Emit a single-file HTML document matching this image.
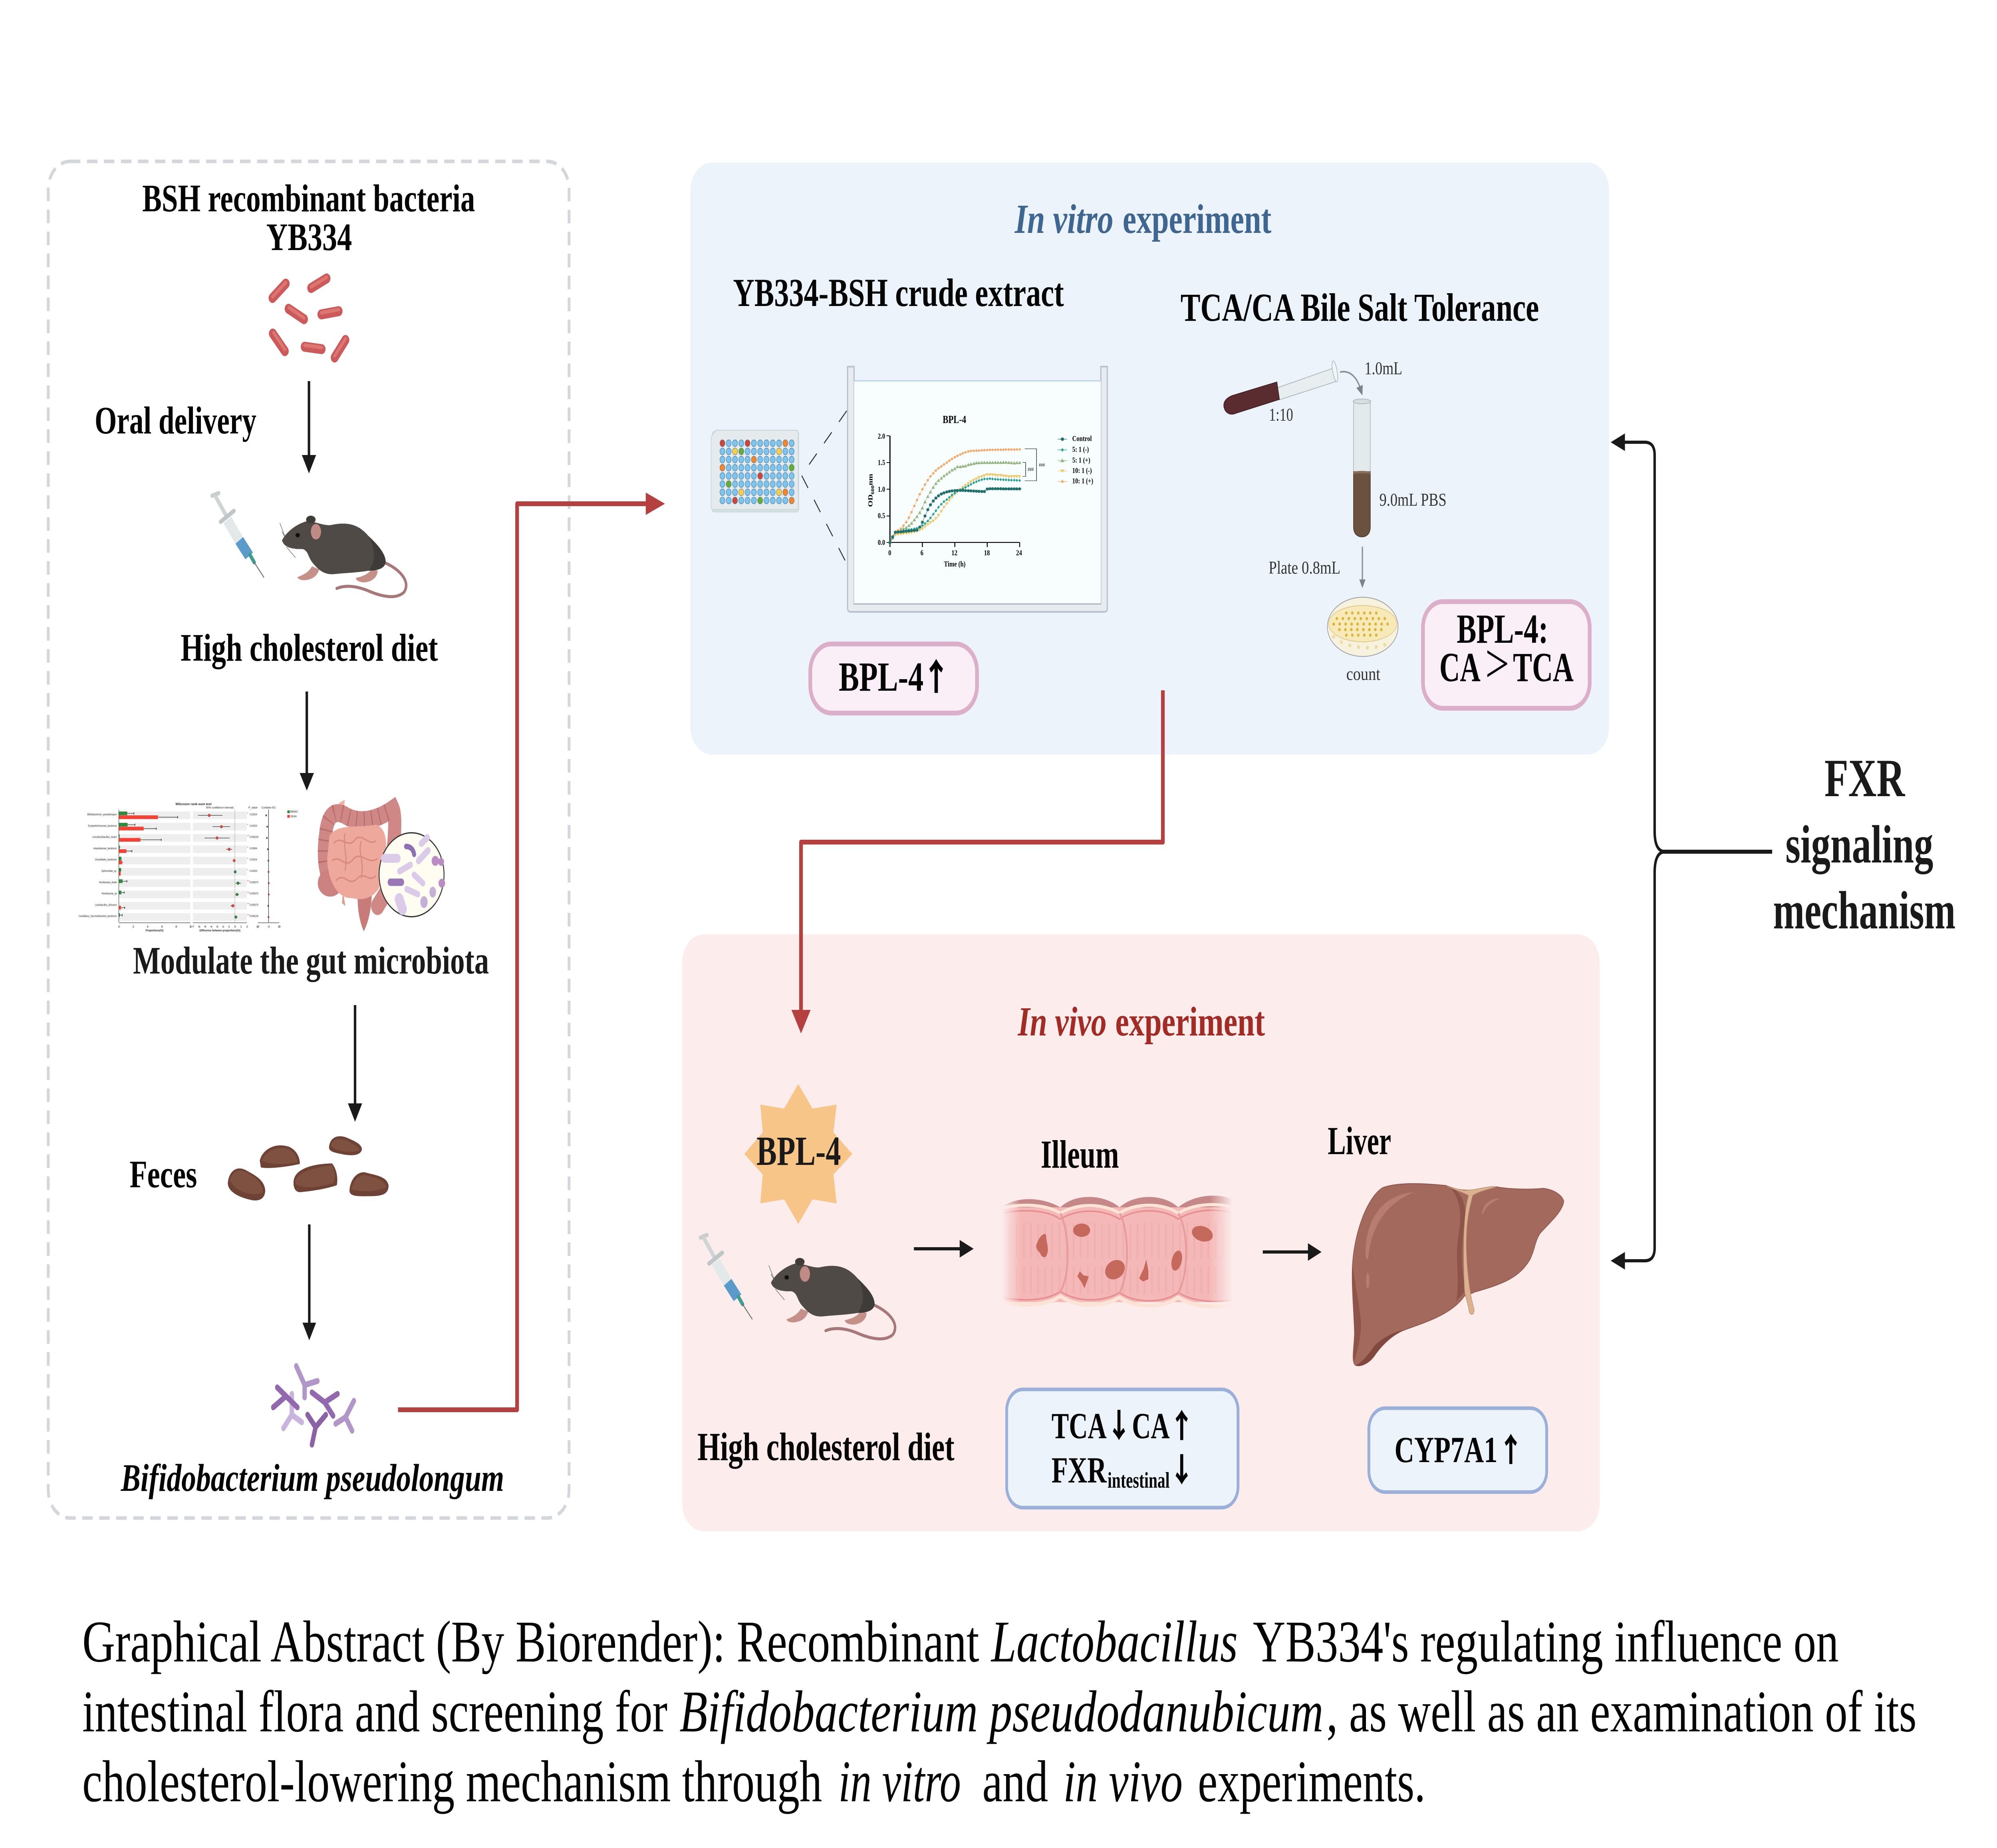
<!DOCTYPE html>
<html><head><meta charset="utf-8"><title>Graphical Abstract</title>
<style>
html,body{margin:0;padding:0;background:#fff;overflow:hidden;width:100%;height:4626px}
svg{display:block;width:100vw;height:4626px;max-width:6457px}
text{font-family:"Liberation Serif",serif;fill:#050505}
.b{font-weight:bold}
.i{font-style:italic}
.s{font-family:"Liberation Sans",sans-serif;fill:#222}
.ar{font-family:"Noto Sans CJK SC","Liberation Serif",sans-serif;font-weight:900}
</style></head><body>
<svg xmlns="http://www.w3.org/2000/svg" viewBox="0 0 6457 4626" preserveAspectRatio="none">
<defs>
<g id="ms" transform="translate(100 350) scale(1.18 1.084)">
  <path d="M965 975C1010 990 1042 1020 1022 1045C1000 1062 960 1055 920 1040C890 1030 860 1028 838 1036" fill="none" stroke="#A87878" stroke-width="7" stroke-linecap="round"/>
  <path d="M730 1010C745 1005 760 1000 770 985L790 992C785 1005 775 1015 750 1017C740 1017 733 1015 730 1010Z" fill="#C49088"/>
  <path d="M890 1012C910 1008 925 1003 935 990L950 995C950 1010 935 1020 915 1022C900 1022 892 1018 890 1012Z" fill="#C49088"/>
  <path d="M688 925C700 905 730 885 760 880C790 885 800 890 820 890C870 880 900 890 925 915C950 935 972 955 972 975C970 990 950 995 925 995C890 1000 860 1000 830 1003C800 1005 785 990 770 975C758 960 760 950 745 945C725 945 695 945 688 925Z" fill="#4F4A46"/>
  <path d="M925 915C950 935 972 955 972 975C970 990 950 995 925 995C945 975 945 945 925 915Z" fill="#3F3B38"/>
  <ellipse cx="767" cy="877" rx="13" ry="9" fill="#3F3B38"/>
  <ellipse cx="781" cy="905" rx="14" ry="18" fill="#C08A85"/>
  <ellipse cx="731" cy="913" rx="6" ry="5" fill="#111"/>
  <path d="M688 905L700 925M682 885L698 920M695 935L730 945M700 940L725 965" stroke="#555" stroke-width="1.2" fill="none"/>
</g>
<g id="sy" transform="translate(100 350) scale(1.18 1.084)" stroke-linecap="round">
  <line x1="497" y1="822" x2="514" y2="816" stroke="#C9CFCF" stroke-width="10"/>
  <line x1="507" y1="825" x2="535" y2="868" stroke="#CFD5D5" stroke-width="10"/>
  <line x1="520" y1="882" x2="556" y2="857" stroke="#BFC6C7" stroke-width="10"/>
  <line x1="538" y1="878" x2="573" y2="928" stroke="#E3E8E9" stroke-width="26" stroke-linecap="butt"/>
  <line x1="571" y1="925" x2="598" y2="961" stroke="#5B9BCB" stroke-width="26" stroke-linecap="butt"/>
  <line x1="600" y1="958" x2="612" y2="976" stroke="#3E9E8F" stroke-width="9"/>
  <line x1="612" y1="976" x2="638" y2="1010" stroke="#777" stroke-width="2.5"/>
</g>
<linearGradient id="fd" gradientUnits="userSpaceOnUse" x1="905" x2="1555" y1="0" y2="0">
  <stop offset="0" stop-color="#000"/><stop offset=".08" stop-color="#fff"/><stop offset=".9" stop-color="#fff"/><stop offset="1" stop-color="#000"/>
</linearGradient>
<mask id="fm" maskUnits="userSpaceOnUse" x="900" y="630" width="670" height="320"><rect x="900" y="630" width="670" height="320" fill="url(#fd)"/></mask>
<marker id="mO" markerUnits="userSpaceOnUse" markerWidth="30" markerHeight="30" refX="0" refY="0" overflow="visible"><polygon points="0,-10 8,0 0,10 -8,0" fill="#F4A767"/></marker>
<marker id="mG" markerUnits="userSpaceOnUse" markerWidth="30" markerHeight="30" refX="0" refY="0" overflow="visible"><polygon points="0,-12 9,9 -9,9" fill="#95B583"/></marker>
<marker id="mY" markerUnits="userSpaceOnUse" markerWidth="30" markerHeight="30" refX="0" refY="0" overflow="visible"><polygon points="0,11 9,-9 -9,-9" fill="#EAC86C"/></marker>
<marker id="mT" markerUnits="userSpaceOnUse" markerWidth="30" markerHeight="30" refX="0" refY="0" overflow="visible"><polygon points="0,-10 7,0 0,10 -7,0" fill="#26A08F"/></marker>
<marker id="mD" markerUnits="userSpaceOnUse" markerWidth="30" markerHeight="30" refX="0" refY="0" overflow="visible"><ellipse rx="8" ry="10" fill="#22706C"/></marker>
<g id="wr"><circle cx="142" r="8.5"/><circle cx="163.3" r="8.5"/><circle cx="184.5" r="8.5"/><circle cx="205.8" r="8.5"/><circle cx="227" r="8.5"/><circle cx="248.4" r="8.5"/><circle cx="269.6" r="8.5"/><circle cx="290.9" r="8.5"/><circle cx="312.2" r="8.5"/><circle cx="333.4" r="8.5"/><circle cx="354.7" r="8.5"/><circle cx="376" r="8.5"/></g>
</defs>

<rect width="6457" height="4626" fill="#fff"/>

<!-- panels -->
<rect x="156" y="404" width="1684" height="3396" rx="70" fill="none" stroke="#D3D7DB" stroke-width="9" stroke-dasharray="34 21"/>
<rect x="2232" y="407" width="2971" height="1482" rx="70" fill="#ECF3FB"/>
<rect x="2206" y="2339" width="2966" height="1494" rx="70" fill="#FCECEC"/>

<!-- LEFT PANEL TEXT -->
<text class="b" x="460" y="529" font-size="98" textLength="1076" lengthAdjust="spacingAndGlyphs">BSH recombinant bacteria</text>
<text class="b" x="861" y="626" font-size="98" textLength="277" lengthAdjust="spacingAndGlyphs">YB334</text>
<text class="b" x="306" y="1085" font-size="98" textLength="523" lengthAdjust="spacingAndGlyphs">Oral delivery</text>
<text class="b" x="584" y="1654" font-size="98" textLength="832" lengthAdjust="spacingAndGlyphs">High cholesterol diet</text>
<text class="b" x="430" y="2437" font-size="98" textLength="1151" lengthAdjust="spacingAndGlyphs" style="fill:#1a1a1a">Modulate the gut microbiota</text>
<text class="b" x="419" y="2972" font-size="98" textLength="218" lengthAdjust="spacingAndGlyphs">Feces</text>
<text class="b i" x="391" y="3732" font-size="98" textLength="1239" lengthAdjust="spacingAndGlyphs">Bifidobacterium pseudolongum</text>

<!-- bacteria -->
<g stroke="#CC5A5A" stroke-width="25" stroke-linecap="round">
<line x1="881" y1="746" x2="924" y2="710"/><line x1="1006" y1="721" x2="1056" y2="697"/>
<line x1="933" y1="773" x2="983" y2="799"/><line x1="1039" y1="787" x2="1095" y2="779"/>
<line x1="882" y1="835" x2="921" y2="879"/><line x1="985" y1="868" x2="1040" y2="874"/>
<line x1="1082" y1="895" x2="1117" y2="851"/></g>
<g stroke="#DC7672" stroke-width="9" stroke-linecap="round">
<line x1="881" y1="743" x2="924" y2="707"/><line x1="1006" y1="718" x2="1056" y2="694"/>
<line x1="935" y1="770" x2="983" y2="796"/><line x1="1039" y1="783" x2="1095" y2="775"/>
<line x1="885" y1="833" x2="921" y2="875"/><line x1="985" y1="864" x2="1040" y2="870"/>
<line x1="1082" y1="891" x2="1117" y2="848"/></g>

<!-- black arrows left -->
<g fill="#1a1a1a" stroke="none">
<rect x="995" y="954" width="8" height="190"/><polygon points="976,1139 1022,1139 999,1185"/>
<rect x="988" y="1731" width="8" height="210"/><polygon points="969,1935 1015,1935 992,1979"/>
<rect x="1144" y="2516" width="8" height="250"/><polygon points="1125,2762 1171,2762 1148,2808"/>
<rect x="996" y="3065" width="8" height="250"/><polygon points="978,3311 1022,3311 1000,3355"/>
</g>

<use href="#sy"/><use href="#ms"/>

<!-- Wilcoxon chart -->
<g transform="translate(200 1950) scale(.542 .345)">
<g fill="#EEEEEE">
<rect x="340" y="236" width="427" height="55"/><rect x="782" y="236" width="321" height="55"/>
<rect x="340" y="318" width="427" height="55"/><rect x="782" y="318" width="321" height="55"/>
<rect x="340" y="400" width="427" height="55"/><rect x="782" y="400" width="321" height="55"/>
<rect x="340" y="482" width="427" height="55"/><rect x="782" y="482" width="321" height="55"/>
<rect x="340" y="564" width="427" height="55"/><rect x="782" y="564" width="321" height="55"/>
<rect x="340" y="646" width="427" height="55"/><rect x="782" y="646" width="321" height="55"/>
<rect x="340" y="728" width="427" height="55"/><rect x="782" y="728" width="321" height="55"/>
<rect x="340" y="810" width="427" height="55"/><rect x="782" y="810" width="321" height="55"/>
<rect x="340" y="892" width="427" height="55"/><rect x="782" y="892" width="321" height="55"/>
<rect x="340" y="974" width="427" height="55"/><rect x="782" y="974" width="321" height="55"/>
</g>
<g fill="#2E8B3E">
<rect x="340" y="236" width="50" height="27"/><rect x="340" y="318" width="52" height="27"/><rect x="340" y="400" width="4" height="27"/><rect x="340" y="482" width="5" height="27"/><rect x="340" y="564" width="15" height="27"/><rect x="340" y="646" width="13" height="27"/><rect x="340" y="728" width="22" height="27"/><rect x="340" y="810" width="15" height="27"/><rect x="340" y="974" width="6" height="27"/>
</g>
<g fill="#F44336">
<rect x="340" y="264" width="233" height="27"/><rect x="340" y="346" width="148" height="27"/><rect x="340" y="428" width="129" height="27"/><rect x="340" y="510" width="45" height="27"/><rect x="340" y="592" width="20" height="27"/><rect x="340" y="674" width="11" height="27"/><rect x="340" y="920" width="13" height="27"/>
</g>
<g stroke="#111" stroke-width="3" fill="none">
<path d="M390 250H430M573 277H691M392 332H436M488 360H563M344 414H346M469 441H593M345 496H349M385 523H418M355 578H357M360 605H364M353 660H356M362 742H388M355 824H372M353 934H375M346 988H360"/>
<path d="M430 242V258M691 269V285M436 324V340M563 352V368M593 433V449M418 515V531M388 734V750M372 816V832M375 926V942M360 980V996"/>
<path d="M812 264H958M899 346H1003M851 428H1001M980 510H1016M1036 756H1068M1035 838H1056M1006 920H1031M1032 1002H1047" stroke="#444" stroke-width="4"/>
<path d="M340 222V1040" stroke-width="2"/>
<path d="M1233 222V1040" stroke-width="2.5"/>
<path d="M1032 222V1040" stroke-dasharray="6 6" stroke-width="1.5"/>
<path d="M340 1043H767M782 1043H1103M1169 1043H1297" stroke="#777" stroke-width="5"/>
</g>
<g fill="#F44336" stroke="#8a3a3a" stroke-width="2"><ellipse cx="879" cy="264" rx="7" ry="10"/><ellipse cx="952" cy="346" rx="7" ry="10"/><ellipse cx="926" cy="428" rx="7" ry="10"/><ellipse cx="998" cy="510" rx="7" ry="10"/><ellipse cx="1028" cy="592" rx="7" ry="10"/><ellipse cx="1020" cy="920" rx="7" ry="10"/></g>
<g fill="#2E8B3E" stroke="#2a5a3a" stroke-width="2"><ellipse cx="1034" cy="674" rx="7" ry="10"/><ellipse cx="1051" cy="756" rx="7" ry="10"/><ellipse cx="1045" cy="838" rx="7" ry="10"/><ellipse cx="1038" cy="1002" rx="7" ry="10"/></g>
<g fill="#2E6B3E"><ellipse cx="1219" cy="264" rx="5" ry="7"/><ellipse cx="1225" cy="346" rx="5" ry="7"/><ellipse cx="1223" cy="428" rx="5" ry="7"/><ellipse cx="1229" cy="510" rx="5" ry="7"/><ellipse cx="1232" cy="592" rx="5" ry="7"/><ellipse cx="1231" cy="920" rx="5" ry="7"/></g>
<g fill="#A33"><ellipse cx="1233" cy="674" rx="5" ry="7"/><ellipse cx="1234" cy="756" rx="5" ry="7"/><ellipse cx="1234" cy="838" rx="5" ry="7"/><ellipse cx="1233" cy="1002" rx="5" ry="7"/></g>
<rect x="1345" y="228" width="15" height="20" fill="#2E8B3E"/><rect x="1345" y="261" width="15" height="20" fill="#F44336"/>
<g font-size="20">
<text class="s" x="152" y="264" textLength="176" lengthAdjust="spacingAndGlyphs">Bifidobacterium_pseudolongum</text>
<text class="s" x="156" y="346" textLength="172" lengthAdjust="spacingAndGlyphs">Erysipelotrichaceae_bacterium</text>
<text class="s" x="181" y="428" textLength="147" lengthAdjust="spacingAndGlyphs">Limosilactobacillus_reuteri</text>
<text class="s" x="188" y="510" textLength="140" lengthAdjust="spacingAndGlyphs">Atopobiaceae_bacterium</text>
<text class="s" x="197" y="592" textLength="131" lengthAdjust="spacingAndGlyphs">Clostridiales_bacterium</text>
<text class="s" x="236" y="674" textLength="92" lengthAdjust="spacingAndGlyphs">Siphoviridae_sp.</text>
<text class="s" x="222" y="756" textLength="106" lengthAdjust="spacingAndGlyphs">Romboutsia_ilealis</text>
<text class="s" x="238" y="838" textLength="90" lengthAdjust="spacingAndGlyphs">Romboutsia_sp</text>
<text class="s" x="198" y="920" textLength="130" lengthAdjust="spacingAndGlyphs">Lactobacillus_johnsonii</text>
<text class="s" x="100" y="1002" textLength="228" lengthAdjust="spacingAndGlyphs">Candidatus_Saccharibacteria_bacterium</text>
<text class="s" x="1120" y="264" textLength="45" lengthAdjust="spacingAndGlyphs">0.02024</text>
<text class="s" x="1120" y="346" textLength="45" lengthAdjust="spacingAndGlyphs">0.04533</text>
<text class="s" x="1120" y="428" textLength="52" lengthAdjust="spacingAndGlyphs">0.008239</text>
<text class="s" x="1120" y="510" textLength="45" lengthAdjust="spacingAndGlyphs">0.03064</text>
<text class="s" x="1120" y="592" textLength="45" lengthAdjust="spacingAndGlyphs">0.02024</text>
<text class="s" x="1120" y="674" textLength="45" lengthAdjust="spacingAndGlyphs">0.04533</text>
<text class="s" x="1120" y="756" textLength="52" lengthAdjust="spacingAndGlyphs">0.005075</text>
<text class="s" x="1120" y="838" textLength="52" lengthAdjust="spacingAndGlyphs">0.005075</text>
<text class="s" x="1120" y="920" textLength="52" lengthAdjust="spacingAndGlyphs">0.005075</text>
<text class="s" x="1120" y="1002" textLength="52" lengthAdjust="spacingAndGlyphs">0.008239</text>
<text class="s" x="860" y="214" textLength="165" lengthAdjust="spacingAndGlyphs">95% confidence intervals</text>
<text class="s" x="1113" y="214" textLength="54" lengthAdjust="spacingAndGlyphs">P_value</text>
<text class="s" x="1191" y="214" textLength="84" lengthAdjust="spacingAndGlyphs">Combine ES</text>
<text class="s" x="1362" y="244" textLength="46" lengthAdjust="spacingAndGlyphs">NB5462</text>
<text class="s" x="1362" y="278" textLength="38" lengthAdjust="spacingAndGlyphs">YB334</text>
<text class="s" x="336" y="1078">0</text><text class="s" x="421" y="1078">2</text><text class="s" x="506" y="1078">4</text><text class="s" x="592" y="1078">6</text><text class="s" x="677" y="1078">8</text><text class="s" x="760" y="1078" textLength="16">10</text>
<text class="s" x="776" y="1078" textLength="14">-7</text><text class="s" x="812" y="1078" textLength="14">-6</text><text class="s" x="848" y="1078" textLength="14">-5</text><text class="s" x="884" y="1078" textLength="14">-4</text><text class="s" x="919" y="1078" textLength="14">-3</text><text class="s" x="955" y="1078" textLength="14">-2</text><text class="s" x="990" y="1078" textLength="14">-1</text><text class="s" x="1028" y="1078">0</text><text class="s" x="1064" y="1078">1</text><text class="s" x="1100" y="1078">2</text>
<text class="s" x="1160" y="1078" textLength="18">-20</text><text class="s" x="1229" y="1078">0</text><text class="s" x="1289" y="1078" textLength="16">20</text>
<text class="s" x="678" y="190" textLength="215" lengthAdjust="spacingAndGlyphs" font-size="24" font-weight="bold">Wilcoxon rank-sum test</text>
<text class="s" x="500" y="1106" textLength="106" lengthAdjust="spacingAndGlyphs" font-weight="bold">Proportions(%)</text>
<text class="s" x="821" y="1106" textLength="244" lengthAdjust="spacingAndGlyphs" font-weight="bold">Difference between proportions(%)</text>
</g>
<g font-size="20"><text class="s" x="1104" y="258" style="fill:#e33">*</text><text class="s" x="1104" y="340" style="fill:#e33">*</text><text class="s" x="1104" y="422" style="fill:#e33">**</text><text class="s" x="1104" y="504" style="fill:#e33">*</text><text class="s" x="1104" y="586" style="fill:#e33">*</text><text class="s" x="1104" y="668" style="fill:#e33">*</text><text class="s" x="1104" y="750" style="fill:#e33">**</text><text class="s" x="1104" y="832" style="fill:#e33">**</text><text class="s" x="1104" y="914" style="fill:#e33">**</text><text class="s" x="1104" y="996" style="fill:#e33">**</text></g>
</g>

<!-- Gut illustration (zoom 2 coords) -->
<g transform="translate(100 1900) scale(1.18 1.2436)">
  <path d="M896 262C892 300 902 330 912 347C924 330 932 305 934 275C925 262 908 256 896 262Z" fill="#C87C7A"/>
  <path d="M845 88L860 82L856 120L838 118Z" fill="#EDB5A4"/>
  <path d="M822 245C804 230 800 190 808 150C812 118 828 100 860 113C900 132 950 122 992 100C1004 120 992 200 978 262L950 296" fill="none" stroke="#D08886" stroke-width="36" stroke-linecap="round"/>
  <path d="M822 245C804 230 800 190 808 150C812 118 828 100 860 113C900 132 950 122 992 100" fill="none" stroke="#B96E6D" stroke-width="36" stroke-dasharray="3 18"/>
  <ellipse cx="820" cy="250" rx="34" ry="27" fill="#CC8280"/>
  <path d="M855 268L862 296L852 290Z" fill="#DDA08E"/>
  <path d="M818 155C840 128 900 140 945 132C980 140 975 180 970 220C962 272 925 288 880 280C838 282 812 240 812 200Z" fill="#EFA99C"/>
  <path d="M830 170C850 150 870 185 890 160C910 150 925 175 945 165M825 205C850 190 860 225 885 200C905 185 925 215 950 200M835 245C860 225 870 260 895 240C915 225 925 250 945 235M860 150C855 180 870 200 860 225M905 165C895 190 915 205 905 240" fill="none" stroke="#D9897E" stroke-width="3"/>
  <ellipse cx="1043" cy="233" rx="89" ry="84.5" fill="#FFFCF2" stroke="#333" stroke-width="2.5"/>
  <g stroke-linecap="round" fill="none">
    <path d="M968 200H1004" stroke="#DCCBE8" stroke-width="18"/>
    <path d="M1028 176C1040 176 1048 182 1050 192" stroke="#8C72B5" stroke-width="11"/>
    <path d="M1062 205L1088 184M1070 170L1086 158" stroke="#DCCBE8" stroke-width="14"/>
    <path d="M1010 226L1040 213M1050 233L1074 250M1030 262L1060 272" stroke="#DCCBE8" stroke-width="13"/>
    <path d="M985 248H1015" stroke="#9A78B5" stroke-width="15"/>
    <path d="M1009 282L1018 302" stroke="#DCCBE8" stroke-width="24"/>
  </g>
  <g fill="#B98CC4"><circle cx="1108" cy="205" r="10"/><circle cx="1124" cy="207" r="8"/><circle cx="1126" cy="250" r="9"/></g>
  <g fill="#C5B0D8"><ellipse cx="1101" cy="268" rx="9" ry="11"/><ellipse cx="1077" cy="288" rx="10" ry="12"/></g>
</g>

<!-- Feces (zoom 2 coords) -->
<g transform="translate(100 1900) scale(1.18 1.2436)">
  <path d="M540 850C545 828 565 818 590 828C615 838 640 848 642 868C642 885 625 892 600 887C570 882 535 870 540 850Z" fill="#6E4234"/>
  <path d="M627 808C635 785 670 772 705 780C725 785 737 800 737 815C710 820 650 826 630 822Z" fill="#6E4234"/>
  <path d="M720 848C725 825 770 815 825 814C838 825 842 845 838 858C810 865 770 870 735 872C722 870 718 860 720 848Z" fill="#6E4234"/>
  <path d="M817 780C820 762 840 755 865 762C890 770 905 775 907 785C905 798 880 800 850 795C830 792 815 790 817 780Z" fill="#6E4234"/>
  <path d="M873 868C875 845 895 830 915 832C945 838 975 840 980 858C980 875 965 880 930 880C900 880 872 882 873 868Z" fill="#6E4234"/>
  <path d="M545 848C552 830 570 824 590 832C612 840 634 852 636 872C610 882 560 872 545 848Z" fill="#7E5140"/>
  <path d="M632 808C645 788 675 778 705 785C720 790 730 800 730 812C700 816 660 818 632 808Z" fill="#7E5140"/>
  <path d="M725 848C732 832 775 822 825 818C834 830 836 846 828 854C790 862 755 866 725 856Z" fill="#7E5140"/>
  <path d="M822 778C826 765 845 762 865 768C880 774 900 780 900 788C870 794 835 790 822 778Z" fill="#7E5140"/>
  <path d="M878 866C885 845 900 836 918 838C940 842 968 846 974 862C940 872 905 872 878 866Z" fill="#7E5140"/>
</g>

<!-- Bifidobacterium -->
<g transform="translate(100 1900) scale(1.18 1.2436)" fill="none" stroke-linecap="round" stroke-width="12">
  <path d="M715 1278L715 1320M692 1347L715 1320L742 1335" stroke="#C9B4DD"/>
  <path d="M727 1222L750 1260L785 1252M750 1260V1285" stroke="#B096C9"/>
  <path d="M664 1305L695 1285M675 1265L730 1305" stroke="#9268AE"/>
  <path d="M770 1275L805 1295L840 1278M805 1295L828 1322" stroke="#9268AE"/>
  <path d="M758 1320L780 1345L808 1320M780 1345L770 1380" stroke="#8C62A6"/>
  <path d="M885 1292L862 1325L835 1338M862 1325L880 1352" stroke="#B196C8"/>
</g>

<!-- Red connectors -->
<path d="M1287 3529H1672V1261H2100" fill="none" stroke="#B44040" stroke-width="12" stroke-linejoin="round"/>
<polygon points="2088,1233 2150,1261 2088,1289" fill="#B44040"/>
<path d="M3760 1728V2108H2590V2535" fill="none" stroke="#B44040" stroke-width="12" stroke-linejoin="round"/>
<polygon points="2559,2528 2621,2528 2590,2587" fill="#B44040"/>

<!-- IN VITRO -->
<text class="b i" x="3281" y="583" font-size="104" textLength="319" lengthAdjust="spacingAndGlyphs" style="fill:#3F6690">In vitro</text>
<text class="b" x="3630" y="583" font-size="104" textLength="481" lengthAdjust="spacingAndGlyphs" style="fill:#3F6690">experiment</text>
<text class="b" x="2370" y="766" font-size="100" textLength="1070" lengthAdjust="spacingAndGlyphs">YB334-BSH crude extract</text>
<text class="b" x="3817" y="803" font-size="100" textLength="1159" lengthAdjust="spacingAndGlyphs">TCA/CA Bile Salt Tolerance</text>

<g transform="translate(2200 380) scale(.9566 .9885)">
  <rect x="108" y="708" width="292" height="204" rx="6" fill="#D4E3E6" stroke="#C4D6DA" stroke-width="2"/>
  <path d="M120 705H392Q398 705 398 711V900Q398 906 392 906H110Q104 906 104 900V722Z" fill="#E5EBEC" stroke="#C8D3D6" stroke-width="2"/>
  <g fill="#7FC4EC" stroke="#4C87AE" stroke-width="1.5">
    <use href="#wr" y="738"/><use href="#wr" y="758.7"/><use href="#wr" y="779.4"/><use href="#wr" y="800"/><use href="#wr" y="820.8"/><use href="#wr" y="841.5"/><use href="#wr" y="862.2"/><use href="#wr" y="883"/>
  </g>
  <g stroke="#777" stroke-width="1">
    <g fill="#C9473F"><circle cx="142" cy="738" r="8.5"/><circle cx="227" cy="738" r="8.5"/><circle cx="269.6" cy="820.8" r="8.5"/><circle cx="184.5" cy="883" r="8.5"/></g>
    <g fill="#F0852D"><circle cx="354.7" cy="738" r="8.5"/><circle cx="248.4" cy="779.4" r="8.5"/><circle cx="142" cy="800" r="8.5"/><circle cx="354.7" cy="862.2" r="8.5"/><circle cx="376" cy="883" r="8.5"/></g>
    <g fill="#F6CF4C"><circle cx="184.5" cy="758.7" r="8.5"/><circle cx="333.4" cy="758.7" r="8.5"/><circle cx="205.8" cy="862.2" r="8.5"/><circle cx="333.4" cy="862.2" r="8.5"/></g>
    <g fill="#62AD38"><circle cx="205.8" cy="758.7" r="8.5"/><circle cx="376" cy="800" r="8.5"/><circle cx="163.3" cy="841.5" r="8.5"/><circle cx="269.6" cy="883" r="8.5"/></g>
  </g>
  <path d="M435 792L563 655M410 820L558 1037" fill="none" stroke="#333" stroke-width="3" stroke-dasharray="38 36"/>
  <path d="M565 544H587V1145H1421V544H1443V1155Q1443 1165 1433 1165H575Q565 1165 565 1155Z" fill="#E8EBF0" stroke="#B9C0CC" stroke-width="4"/>
  <rect x="587" y="580" width="834" height="565" fill="#F8FDFE"/>
  <path d="M587 580H1421" stroke="#B7D3E8" stroke-width="3"/>
  <path d="M587 1145H1421" stroke="#B9C0CC" stroke-width="4"/>
</g>

<!-- growth chart -->
<g transform="translate(2700 950) scale(.606 .383)" fill="none">
  <path d="M293 368V1065M293 1065H985" stroke="#000" stroke-width="6"/>
  <path d="M275 368H293M275 543H293M275 717H293M275 892H293M275 1065H293M293 1065V1095M466 1065V1095M639 1065V1095M812 1065V1095M985 1065V1095" stroke="#000" stroke-width="5"/>
  <polyline stroke="#F4A767" stroke-width="2" marker-start="url(#mO)" marker-mid="url(#mO)" marker-end="url(#mO)" points="293,1065 307,1028 322,995 336,985 351,975 365,955 380,932 394,903 408,867 423,827 437,788 452,750 466,717 480,687 495,658 509,633 524,613 538,595 552,580 567,568 581,555 596,543 610,530 624,519 639,508 653,499 668,490 682,482 696,476 711,470 725,467 740,466 754,465 768,465 783,463 797,462 812,461 826,460 840,460 855,460 869,459 884,459 898,459 912,458 927,458 941,458 956,458 970,457 985,457"/>
  <polyline stroke="#95B583" stroke-width="2" marker-start="url(#mG)" marker-mid="url(#mG)" marker-end="url(#mG)" points="293,1065 307,1035 322,1000 336,993 351,985 365,975 380,968 394,955 408,940 423,918 437,896 452,870 466,840 480,800 495,765 509,735 524,705 538,680 552,660 567,645 581,630 596,618 610,605 624,592 639,583 653,570 668,570 682,567 696,565 711,557 725,553 740,549 754,545 768,545 783,543 797,543 812,543 826,543 840,543 855,542 869,543 884,543 898,542 912,541 927,543 941,544 956,546 970,544 985,544"/>
  <polyline stroke="#EAC86C" stroke-width="2" marker-start="url(#mY)" marker-mid="url(#mY)" marker-end="url(#mY)" points="293,1065 307,1040 322,1015 336,1012 351,1010 365,1008 380,1005 394,1003 408,1000 423,997 437,992 452,985 466,975 480,962 495,948 509,935 524,925 538,908 552,888 567,862 581,835 596,812 610,790 624,770 639,750 653,735 668,718 682,705 696,692 711,680 725,668 740,658 754,650 768,640 783,635 797,628 812,622 826,622 840,623 855,625 869,628 884,627 898,630 912,632 927,636 941,634 956,634 970,634 985,635"/>
  <polyline stroke="#26A08F" stroke-width="2" marker-start="url(#mT)" marker-mid="url(#mT)" marker-end="url(#mT)" points="293,1065 307,1035 322,1000 336,996 351,992 365,988 380,985 394,982 408,979 423,976 437,972 452,965 466,955 480,942 495,925 509,905 524,880 538,858 552,835 567,815 581,798 596,785 610,770 624,755 639,742 653,730 668,722 682,714 696,705 711,695 725,685 740,675 754,668 768,660 783,655 797,650 812,650 826,648 840,650 855,652 869,653 884,654 898,655 912,656 927,657 941,658 956,658 970,659 985,660"/>
  <polyline stroke="#22706C" stroke-width="2" marker-start="url(#mD)" marker-mid="url(#mD)" marker-end="url(#mD)" points="293,1065 307,1028 322,998 336,997 351,996 365,994 380,992 394,990 408,988 423,986 437,984 452,965 466,933 480,892 495,851 509,819 524,794 538,775 552,760 567,748 581,741 596,735 610,731 624,728 639,726 653,725 668,725 682,725 696,726 711,727 725,728 740,729 754,730 768,731 783,732 797,732 812,716 826,714 840,714 855,714 869,714 884,714 898,715 912,715 927,715 941,715 956,715 970,715 985,715"/>
  <path d="M1012 453H1075V662H1012M1000 542H1017V633H1000" stroke="#000" stroke-width="2.5"/>
  <path d="M1188 390H1238" stroke="#22706C" stroke-width="3"/><ellipse cx="1213" cy="390" rx="9" ry="11" fill="#22706C"/>
  <path d="M1188 460H1238" stroke="#7CC9BD" stroke-width="6"/><polygon points="1213,448 1221,460 1213,472 1205,460" fill="#26A08F"/>
  <path d="M1188 530H1238" stroke="#B3CBA3" stroke-width="6"/><polygon points="1213,516 1224,540 1202,540" fill="#95B583"/>
  <path d="M1188 598H1238" stroke="#F0DC9C" stroke-width="6"/><polygon points="1213,610 1224,588 1202,588" fill="#EAC86C"/>
  <path d="M1188 667H1238" stroke="#F8C9A0" stroke-width="6"/><polygon points="1213,655 1221,667 1213,679 1205,667" fill="#F4A767"/>
</g>
<g font-size="19" style="font-weight:bold">
  <text x="3048" y="1059" font-size="27" textLength="76" lengthAdjust="spacingAndGlyphs" font-weight="bold">BPL-4</text>
  <g text-anchor="end" font-weight="bold"><text x="2862" y="1098">2.0</text><text x="2862" y="1164">1.5</text><text x="2862" y="1231">1.0</text><text x="2862" y="1297">0.5</text><text x="2862" y="1364">0.0</text></g>
  <g text-anchor="middle" font-weight="bold"><text x="2877" y="1390">0</text><text x="2981" y="1390">6</text><text x="3086" y="1390">12</text><text x="3191" y="1390">18</text><text x="3295" y="1390">24</text><text x="3087" y="1418">Time (h)</text></g>
  <text transform="translate(2821 1269) rotate(-90)" font-weight="bold" font-size="21">OD<tspan font-size="15" dy="5">600</tspan><tspan dy="-5">nm</tspan></text>
  <g font-weight="bold"><text x="3467" y="1104">Control</text><text x="3467" y="1131">5: 1 (-)</text><text x="3467" y="1158">5: 1 (+)</text><text x="3467" y="1184">10: 1 (-)</text><text x="3467" y="1210">10: 1 (+)</text></g>
  <text x="3323" y="1179" font-size="13" style="font-weight:normal">###</text><text x="3359" y="1168" font-size="13" style="font-weight:normal">###</text>
</g>

<!-- BPL-4 up pill -->
<rect x="2620" y="1612" width="539" height="173" rx="68" fill="#FBEFF7" stroke="#DBAEC9" stroke-width="12"/>
<text class="b" x="2712" y="1729" font-size="104" textLength="274" lengthAdjust="spacingAndGlyphs">BPL-4</text>
<text class="ar" x="3027" y="1727" font-size="92" text-anchor="middle">↑</text>

<!-- tubes (zoom 4 coords) -->
<g transform="translate(3700 380) scale(1.0204 .9885)">
  <path d="M420 598L598 548L606 582L428 628Z" fill="#E8EEF0" stroke="#AEB8BC" stroke-width="2"/>
  <path d="M420 583L280 617C262 622 250 632 252 645C256 662 272 668 290 662L428 627Z" fill="#5A2C30" stroke="#3e1e22" stroke-width="2"/>
  <ellipse cx="604" cy="556" rx="7" ry="27" transform="rotate(-13 604 556)" fill="#F1F5F6" stroke="#AEB8BC" stroke-width="2"/>
  <path d="M620 558C650 552 678 570 688 612" fill="none" stroke="#8A8F93" stroke-width="4"/>
  <polygon points="672,598 692,590 691,617" fill="#7F8488"/>
  <rect x="663" y="630" width="53" height="180" fill="#E4EAEC" stroke="#AEB8BC" stroke-width="2"/>
  <ellipse cx="689.5" cy="632" rx="28" ry="6" fill="#D5DEE1" stroke="#AEB8BC" stroke-width="2"/>
  <path d="M663 810H716V950C716 968 703 975 689.5 975C676 975 663 968 663 950Z" fill="#6B5140" stroke="#4A3525" stroke-width="2"/>
  <path d="M663 810Q689 806 716 810V816Q689 812 663 816Z" fill="#8A6E5A"/>
  <path d="M691 1000V1085" stroke="#8A8F93" stroke-width="4"/>
  <polygon points="681,1083 701,1083 691,1105" fill="#7F8488"/>
  <ellipse cx="692" cy="1203" rx="112" ry="75" fill="#F6F2DE" stroke="#9A9E9E" stroke-width="2"/>
  <ellipse cx="692" cy="1195" rx="108" ry="46" fill="#F8E9B8" stroke="#E2C78E" stroke-width="2"/>
  <g fill="none" stroke-linecap="round" stroke="#D9B437" stroke-width="8" stroke-dasharray="0 19">
    <path d="M640 1168H745"/><path d="M610 1182H780"/><path d="M600 1196H790"/><path d="M618 1210H770"/><path d="M640 1224H745"/>
  </g>
  <g fill="none" stroke-linecap="round" stroke="#EBDDA4" stroke-width="10" stroke-dasharray="0 28"><path d="M600 1228C640 1260 740 1265 780 1240"/></g>
</g>
<g font-size="46">
  <text x="4412" y="937" textLength="122" lengthAdjust="spacingAndGlyphs" style="fill:#333">1.0mL</text>
  <text x="4103" y="1053" textLength="78" lengthAdjust="spacingAndGlyphs" style="fill:#333">1:10</text>
  <text x="4460" y="1266" textLength="217" lengthAdjust="spacingAndGlyphs" style="fill:#333">9.0mL PBS</text>
  <text x="4102" y="1436" textLength="232" lengthAdjust="spacingAndGlyphs" style="fill:#333">Plate 0.8mL</text>
  <text x="4353" y="1702" textLength="110" lengthAdjust="spacingAndGlyphs" style="fill:#333">count</text>
</g>
<rect x="4601" y="1506" width="539" height="267" rx="64" fill="#FBEFF7" stroke="#DBAEC9" stroke-width="12"/>
<text class="b" x="4710" y="1609" font-size="104" textLength="296" lengthAdjust="spacingAndGlyphs">BPL-4:</text>
<text class="b" x="4654" y="1705" font-size="104" textLength="133" lengthAdjust="spacingAndGlyphs">CA</text>
<text x="4802" y="1708" font-size="140" textLength="78" lengthAdjust="spacingAndGlyphs">&gt;</text>
<text class="b" x="4892" y="1705" font-size="104" textLength="196" lengthAdjust="spacingAndGlyphs">TCA</text>

<!-- bracket -->
<g fill="none" stroke="#1a1a1a" stroke-width="8">
  <path d="M5250 1107H5318Q5350 1107 5350 1139V2080C5350 2110 5358 2132 5385 2132"/>
  <path d="M5250 3156H5318Q5350 3156 5350 3124V2185C5350 2155 5358 2132 5385 2132"/>
</g>
<path d="M5378 2132H5730" stroke="#1a1a1a" stroke-width="10"/>
<polygon points="5208,1107 5254,1085 5254,1129" fill="#1a1a1a"/>
<polygon points="5208,3156 5254,3134 5254,3178" fill="#1a1a1a"/>
<text class="b" x="5899" y="1993" font-size="135" textLength="260" lengthAdjust="spacingAndGlyphs" style="fill:#1a1a1a">FXR</text>
<text class="b" x="5773" y="2159" font-size="135" textLength="478" lengthAdjust="spacingAndGlyphs" style="fill:#1a1a1a">signaling</text>
<text class="b" x="5733" y="2324" font-size="135" textLength="590" lengthAdjust="spacingAndGlyphs" style="fill:#1a1a1a">mechanism</text>

<!-- IN VIVO -->
<text class="b i" x="3291" y="2592" font-size="104" textLength="287" lengthAdjust="spacingAndGlyphs" style="fill:#A32B25">In vivo</text>
<text class="b" x="3606" y="2592" font-size="104" textLength="484" lengthAdjust="spacingAndGlyphs" style="fill:#A32B25">experiment</text>

<g transform="translate(2200 2350) scale(1.148 .9885)">
  <polygon points="332,368 372,430 440,420 431,490 484,545 431,597 440,670 372,660 332,722 292,660 225,670 232,597 180,545 232,490 225,420 292,430" fill="#F6C587"/>
  <g mask="url(#fm)">
    <path d="M905 680C940 655 1010 650 1070 680C1110 645 1190 645 1237 680C1280 645 1360 645 1402 680C1450 645 1520 645 1555 660V700H905Z" fill="#C58787"/>
    <rect x="905" y="680" width="650" height="240" fill="#F4B8B8"/>
    <path d="M905 682C960 670 1030 672 1070 695C1120 668 1190 670 1237 695C1280 668 1360 668 1402 695C1450 668 1520 670 1555 680" fill="none" stroke="#FBE4D6" stroke-width="8"/>
    <path d="M905 695C960 685 1030 685 1070 710C1120 682 1190 684 1237 710C1280 682 1360 682 1402 710C1450 682 1520 684 1555 695" fill="none" stroke="#E78F8F" stroke-width="4"/>
    <path d="M905 920C960 930 1030 930 1070 905C1120 935 1190 932 1237 908C1280 936 1360 936 1402 908C1450 935 1520 935 1555 925" fill="none" stroke="#FBE4D6" stroke-width="10"/>
    <path d="M905 908C960 918 1030 918 1070 893C1120 922 1190 920 1237 896C1280 924 1360 924 1402 896C1450 922 1520 922 1555 912" fill="none" stroke="#E78F8F" stroke-width="4"/>
    <path d="M905 765H1555" stroke="#EFA3A3" stroke-width="90" stroke-dasharray="5 15" opacity=".4"/>
    <path d="M905 865H1555" stroke="#EFA3A3" stroke-width="70" stroke-dasharray="5 15" opacity=".4"/>
    <path d="M1070 695C1095 740 1100 850 1070 893M1237 695C1265 740 1265 850 1237 896M1402 695C1432 740 1432 850 1402 896" fill="none" stroke="#E79C9C" stroke-width="5"/>
  </g>
  <g fill="#C4695C">
    <path d="M1005 770C1010 755 1025 742 1030 750C1030 770 1040 785 1032 800C1028 812 1015 805 1013 795C1005 790 998 780 1005 770Z"/>
    <ellipse cx="1130" cy="738" rx="24" ry="17"/>
    <path d="M1118 855L1125 842L1135 852L1150 855L1145 868L1138 885L1130 870Z"/>
    <ellipse cx="1224" cy="838" rx="29" ry="23" transform="rotate(-30 1224 838)"/>
    <path d="M1305 835L1312 812L1318 840L1318 862L1303 868L1292 860Z"/>
    <ellipse cx="1398" cy="815" rx="14" ry="26" transform="rotate(15 1398 815)"/>
    <ellipse cx="1470" cy="747" rx="30" ry="19" transform="rotate(15 1470 747)"/>
  </g>
</g>
<use href="#sy" transform="translate(1579 1857)"/>
<use href="#ms" transform="translate(1581 1858)"/>

<text class="b" x="2446" y="2916" font-size="104" textLength="273" lengthAdjust="spacingAndGlyphs" style="fill:#1a1a1a">BPL-4</text>
<text class="b" x="3365" y="2923" font-size="100" textLength="253" lengthAdjust="spacingAndGlyphs">Illeum</text>
<text class="b" x="4293" y="2889" font-size="100" textLength="205" lengthAdjust="spacingAndGlyphs">Liver</text>
<text class="b" x="2255" y="3655" font-size="100" textLength="831" lengthAdjust="spacingAndGlyphs">High cholesterol diet</text>
<rect x="2955" y="3122" width="150" height="8" fill="#1a1a1a"/><polygon points="3103,3104 3148,3126 3103,3148" fill="#1a1a1a"/>
<rect x="4083" y="3130" width="150" height="8" fill="#1a1a1a"/><polygon points="4229,3112 4273,3134 4229,3156" fill="#1a1a1a"/>

<!-- Liver (zoom 6 coords) -->
<g transform="translate(3900 2350) scale(.893 .9885)">
  <path d="M530 820C540 730 590 650 640 630C700 615 800 620 870 625C920 640 960 640 1050 628C1100 635 1180 635 1220 632C1260 635 1290 650 1295 665C1290 690 1250 715 1210 745C1190 765 1190 790 1170 815C1130 860 1070 875 970 895C960 900 945 900 935 905C890 950 800 970 720 990C680 1000 640 1025 610 1055C590 1075 560 1085 540 1080C525 1070 535 1040 537 1000C535 940 525 880 530 820Z" fill="#A4695D" stroke="#8E5449" stroke-width="2"/>
  <path d="M880 628C925 640 945 670 935 720C925 770 920 830 938 880C935 905 920 900 905 920C920 860 900 820 912 760C925 700 925 660 880 628Z" fill="#8E5449"/>
  <path d="M540 1080C560 1085 590 1075 610 1055C640 1025 680 1000 720 990C680 995 640 1010 610 1030C580 1060 560 1075 540 1080Z" fill="#82483F"/>
  <path d="M530 820C535 870 565 950 560 990C555 1030 540 1060 535 1072C530 1050 538 1030 537 1000C535 940 525 880 530 820Z" fill="#8E5449"/>
  <path d="M578 810C570 730 620 650 750 642C690 660 600 700 586 812Z" fill="#B97D70"/>
  <ellipse cx="585" cy="866" rx="6" ry="20" fill="#B97D70"/>
  <path d="M998 695C1005 670 1030 656 1065 658C1040 665 1012 675 1002 698Z" fill="#B97D70"/>
  <path d="M870 625C900 632 935 640 950 636C985 636 1020 625 1050 628C1020 635 985 640 965 650C950 690 940 720 942 790C945 850 955 900 970 938C972 952 958 956 952 944C948 920 935 905 935 880C930 800 930 700 950 650C925 640 895 635 870 625Z" fill="#DCB190" stroke="#B98D72" stroke-width="1.5"/>
</g>

<!-- result boxes -->
<rect x="3255" y="3478" width="748" height="296" rx="52" fill="#ECF3FB" stroke="#9AB0D8" stroke-width="9"/>
<text class="b" x="3400" y="3600" font-size="92" textLength="178" lengthAdjust="spacingAndGlyphs">TCA</text>
<text class="ar" x="3618" y="3598" font-size="82" text-anchor="middle">↓</text>
<text class="b" x="3660" y="3600" font-size="92" textLength="122" lengthAdjust="spacingAndGlyphs">CA</text>
<text class="ar" x="3821" y="3598" font-size="82" text-anchor="middle">↑</text>
<text class="b" x="3400" y="3711" font-size="92" textLength="178" lengthAdjust="spacingAndGlyphs">FXR</text>
<text class="b" x="3581" y="3724" font-size="56" textLength="201" lengthAdjust="spacingAndGlyphs">intestinal</text>
<text class="ar" x="3821" y="3709" font-size="82" text-anchor="middle">↓</text>

<rect x="4426" y="3525" width="575" height="210" rx="52" fill="#ECF3FB" stroke="#9AB0D8" stroke-width="9"/>
<text class="b" x="4509" y="3660" font-size="92" textLength="333" lengthAdjust="spacingAndGlyphs">CYP7A1</text>
<text class="ar" x="4885" y="3658" font-size="82" text-anchor="middle">↑</text>

<!-- caption -->
<g font-size="148">
<text x="266" y="4159" textLength="2900" lengthAdjust="spacingAndGlyphs">Graphical Abstract (By Biorender): Recombinant</text>
<text class="i" x="3205" y="4159" textLength="797" lengthAdjust="spacingAndGlyphs">Lactobacillus</text>
<text x="4051" y="4159" textLength="1894" lengthAdjust="spacingAndGlyphs">YB334's regulating influence on</text>
<text x="266" y="4334" textLength="1892" lengthAdjust="spacingAndGlyphs">intestinal flora and screening for</text>
<text class="i" x="2197" y="4334" textLength="2082" lengthAdjust="spacingAndGlyphs">Bifidobacterium pseudodanubicum</text>
<text x="4289" y="4334" textLength="1908" lengthAdjust="spacingAndGlyphs">, as well as an examination of its</text>
<text x="266" y="4509" textLength="2392" lengthAdjust="spacingAndGlyphs">cholesterol-lowering mechanism through</text>
<text class="i" x="2711" y="4509" textLength="396" lengthAdjust="spacingAndGlyphs">in vitro</text>
<text x="3176" y="4509" textLength="213" lengthAdjust="spacingAndGlyphs">and</text>
<text class="i" x="3438" y="4509" textLength="386" lengthAdjust="spacingAndGlyphs">in vivo</text>
<text x="3873" y="4509" textLength="736" lengthAdjust="spacingAndGlyphs">experiments.</text>
</g>
</svg>
</body></html>
